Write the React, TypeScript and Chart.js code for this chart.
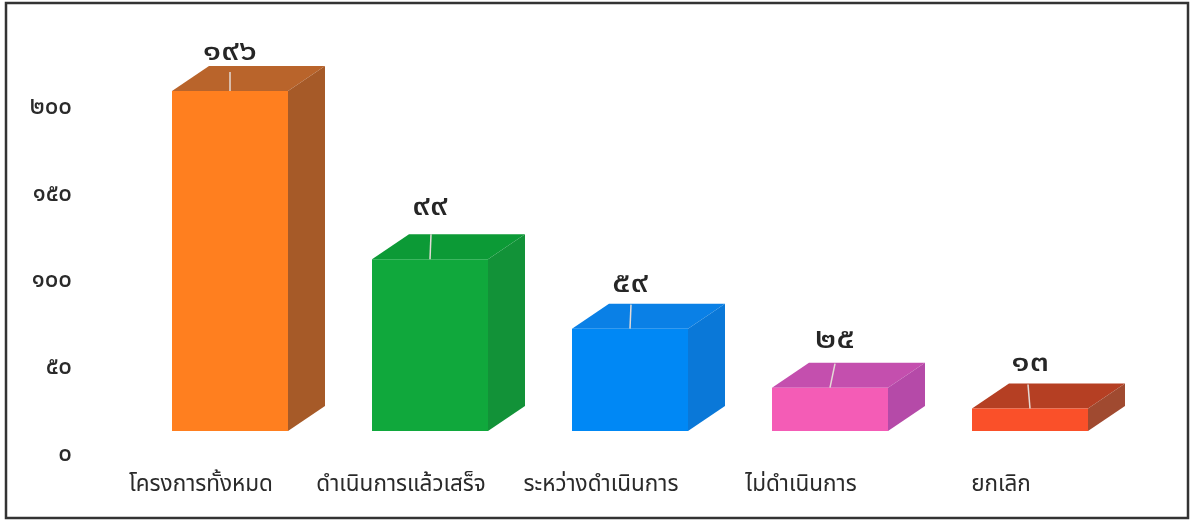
import React, { useEffect, useRef } from "react";
import { Chart, registerables } from "chart.js";

Chart.register(...registerables);

const categories = ["โครงการทั้งหมด", "ดำเนินการแล้วเสร็จ", "ระหว่างดำเนินการ", "ไม่ดำเนินการ", "ยกเลิก"];
const projectCounts = [196, 99, 59, 25, 13];
const valueLabels = ["๑๙๖", "๙๙", "๕๙", "๒๕", "๑๓"];
const yTickValues = [0, 50, 100, 150, 200];
const yTickLabels = ["๐", "๕๐", "๑๐๐", "๑๕๐", "๒๐๐"];

const frontColors = ["#FF7F1F", "#10A83C", "#0088F5", "#F45CB6", "#FA5029"];
const topColors = ["#B9642B", "#0C9A36", "#0A80E6", "#C44FAE", "#B53F23"];
const sideColors = ["#A65A28", "#129238", "#0A78D8", "#B54AA8", "#A04A30"];

const DX = 37;
const DY = 25;
const LIFT = 23;
const labelLift = [39, 52, 45, 48, 45];
const leaderTop = [19, 25, 24, 24, 24];
const leaderLean = [0, 1, 1, 5, -2];
const labelShift = [0, 0, 0, 5, 0];
const FONT = '"Noto Sans", "Noto Sans Thai", "DejaVu Sans", sans-serif';

const depthPlugin = {
  id: "depth3d",
  beforeDatasetsDraw(chart: any) {
    const ctx = chart.ctx;
    const bars = chart.getDatasetMeta(0).data;
    ctx.save();
    bars.forEach((b: any, i: number) => {
      const half = b.width / 2;
      const l = b.x - half;
      const r = b.x + half;
      const t = b.y - LIFT;
      const base = b.base - LIFT;
      ctx.fillStyle = topColors[i];
      ctx.beginPath();
      ctx.moveTo(l, t);
      ctx.lineTo(l + DX, t - DY);
      ctx.lineTo(r + DX, t - DY);
      ctx.lineTo(r, t);
      ctx.closePath();
      ctx.fill();
      ctx.fillStyle = sideColors[i];
      ctx.beginPath();
      ctx.moveTo(r, t);
      ctx.lineTo(r + DX, t - DY);
      ctx.lineTo(r + DX, base - DY);
      ctx.lineTo(r, base);
      ctx.closePath();
      ctx.fill();
    });
    ctx.restore();
    ctx.save();
    ctx.translate(0, -LIFT);
  },
  afterDatasetsDraw(chart: any) {
    const ctx = chart.ctx;
    ctx.restore();
    const bars = chart.getDatasetMeta(0).data;
    ctx.save();
    bars.forEach((b: any, i: number) => {
      const t = b.y - LIFT;
      ctx.strokeStyle = "#E4DAD6";
      ctx.lineWidth = 1.5;
      ctx.beginPath();
      ctx.moveTo(b.x, t);
      ctx.lineTo(b.x + leaderLean[i], t - leaderTop[i]);
      ctx.stroke();
      ctx.save();
      ctx.translate(b.x + labelShift[i], t - labelLift[i]);
      ctx.scale(1.22, 1);
      ctx.fillStyle = "#262626";
      ctx.font = `500 28px ${FONT}`;
      ctx.textAlign = "center";
      ctx.textBaseline = "middle";
      ctx.fillText(valueLabels[i], 0, 0);
      ctx.restore();
    });
    ctx.restore();
  },
  afterDraw(chart: any) {
    const ctx = chart.ctx;
    ctx.save();
    ctx.strokeStyle = "#333333";
    ctx.lineWidth = 2.5;
    ctx.strokeRect(6, 3, 1182, 515);
    ctx.restore();
  },
};

export default function App() {
  const ref = useRef<HTMLCanvasElement>(null);
  useEffect(() => {
    const chart = new Chart(ref.current as HTMLCanvasElement, {
      type: "bar",
      data: {
        labels: categories,
        datasets: [
          {
            data: projectCounts,
            backgroundColor: frontColors,
            barPercentage: 0.58,
            categoryPercentage: 1,
            clip: false,
          } as any,
        ],
      },
      options: {
        responsive: false,
        animation: false,
        layout: { padding: { top: 107, right: 60, bottom: 0, left: 0 } },
        plugins: { legend: { display: false }, title: { display: false }, tooltip: { enabled: false } },
        scales: {
          x: {
            grid: { display: false, drawTicks: false },
            border: { display: false },
            afterFit: (s: any) => {
              s.height = 67;
              s.paddingBottom = 0;
            },
            ticks: {
              color: "#2A2A2A",
              font: { family: FONT, size: 22.5 },
              padding: 17,
              labelOffset: -29,
              maxRotation: 0,
              autoSkip: false,
            },
          },
          y: {
            min: 0,
            max: 200,
            grid: { display: false, drawTicks: false },
            border: { display: false },
            afterFit: (s: any) => {
              s.width = 130;
              s.paddingBottom = 0;
            },
            afterBuildTicks: (s: any) => {
              s.ticks = yTickValues.map((value) => ({ value }));
            },
            ticks: {
              color: "#2A2A2A",
              font: { family: FONT, size: 24, weight: "500" },
              padding: 58,
              callback: (v: any) => yTickLabels[yTickValues.indexOf(Number(v))],
            },
          },
        },
      } as any,
      plugins: [depthPlugin],
    });
    return () => chart.destroy();
  }, []);
  return (
    <div style={{ position: "fixed", left: 0, top: 0, width: 1190, height: 521, background: "#fff" }}>
      <canvas ref={ref} width={1190} height={521} style={{ display: "block" }} />
    </div>
  );
}
